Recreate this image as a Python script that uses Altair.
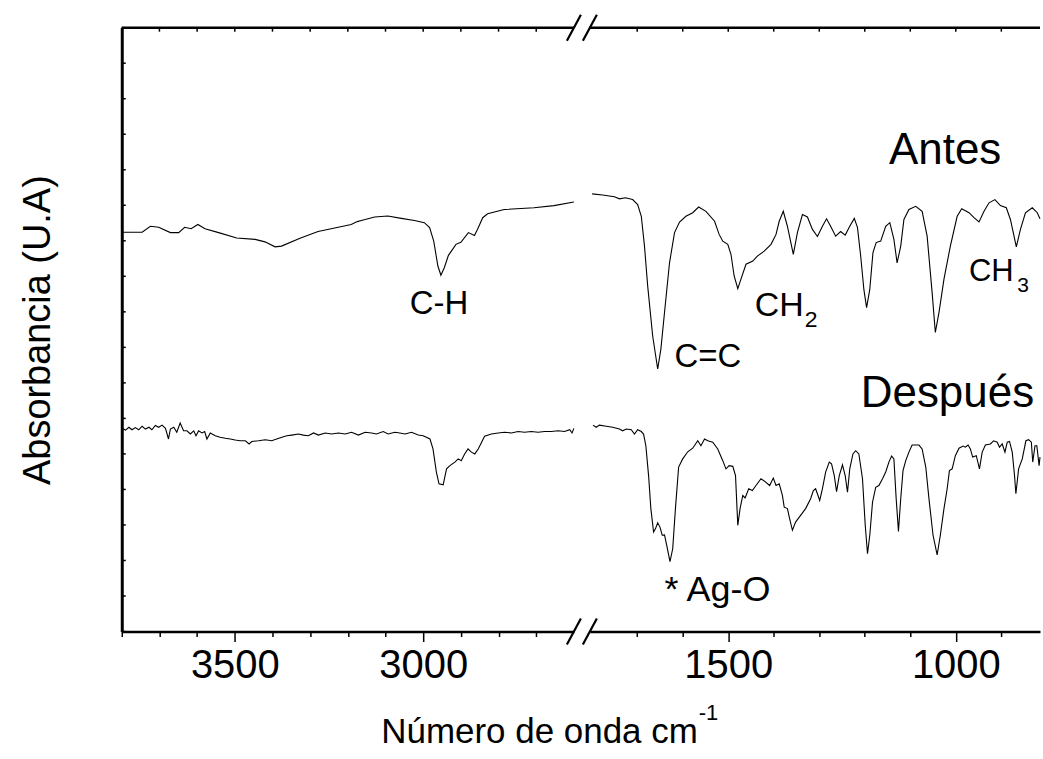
import altair as alt
import pandas as pd

# ---------------- data ----------------
# "Antes" spectrum, high-wavenumber region (cm-1) and absorbance (a.u.)
antes_hi_wn = [3800, 3795, 3746, 3724, 3702, 3671, 3649, 3633, 3616, 3598,
               3579, 3543, 3495, 3446, 3420, 3393, 3376, 3327, 3279, 3235,
               3191, 3175, 3164, 3129, 3094, 3058, 3023, 2997, 2983, 2972,
               2961, 2953, 2944, 2933, 2913, 2900, 2880, 2864, 2856, 2842,
               2829, 2785, 2706, 2653, 2600]
antes_hi_abs = [11.24, 11.24, 11.24, 11.41, 11.38, 11.23, 11.23, 11.38, 11.34, 11.46,
                11.34, 11.23, 11.08, 11.04, 10.97, 10.83, 10.85, 11.07, 11.26, 11.36,
                11.46, 11.54, 11.57, 11.67, 11.70, 11.63, 11.57, 11.51, 11.37, 10.99,
                10.29, 10.03, 10.24, 10.59, 10.90, 10.96, 11.23, 11.15, 11.32, 11.65,
                11.76, 11.88, 11.93, 11.99, 12.09]

# "Antes" spectrum, fingerprint region
antes_lo_wn = [1799, 1776, 1750, 1739, 1726, 1710, 1699, 1691, 1684, 1677,
               1666, 1655, 1648, 1640, 1629, 1618, 1607, 1593, 1578, 1565,
               1549, 1530, 1520, 1512, 1501, 1494, 1487, 1479, 1472, 1461,
               1446, 1436, 1421, 1406, 1395, 1388, 1379, 1370, 1357, 1348,
               1337, 1326, 1315, 1304, 1293, 1284, 1275, 1264, 1253, 1243,
               1233, 1223, 1216, 1209, 1202, 1196, 1189, 1182, 1175, 1165,
               1154, 1145, 1136, 1129, 1121, 1114, 1103, 1088, 1074, 1063,
               1052, 1045, 1037, 1026, 1012, 997, 987, 971, 960, 949,
               938, 927, 914, 902, 889, 880, 867, 858, 847, 832,
               821, 815]
antes_lo_abs = [12.32, 12.29, 12.24, 12.18, 12.21, 12.16, 12.02, 11.69, 10.85, 9.73,
                8.32, 7.39, 7.95, 8.98, 10.38, 11.23, 11.53, 11.69, 11.79, 11.95,
                11.83, 11.55, 11.18, 10.99, 10.90, 10.62, 10.01, 9.65, 9.92, 10.34,
                10.43, 10.57, 10.71, 10.90, 11.18, 11.55, 11.83, 11.41, 10.62, 11.23,
                11.74, 11.67, 11.32, 11.12, 11.41, 11.62, 11.41, 11.13, 11.26, 11.16,
                11.41, 11.63, 11.37, 10.57, 9.63, 9.12, 9.63, 10.67, 10.95, 10.99,
                11.41, 11.51, 11.04, 10.38, 10.85, 11.60, 11.88, 11.97, 11.83, 11.13,
                9.54, 8.42, 8.98, 9.92, 10.85, 11.69, 11.90, 11.79, 11.65, 11.53,
                11.83, 12.07, 12.16, 11.99, 11.93, 11.60, 10.83, 11.32, 11.79, 11.93,
                11.79, 11.62]

# "Después" spectrum, high-wavenumber region
despues_hi_wn = [3800, 3790, 3781, 3773, 3764, 3755, 3746, 3737, 3728, 3720,
                 3711, 3702, 3693, 3684, 3676, 3671, 3662, 3654, 3645, 3636,
                 3627, 3618, 3609, 3603, 3596, 3587, 3580, 3574, 3565, 3552,
                 3539, 3525, 3512, 3499, 3486, 3472, 3462, 3455, 3437, 3419,
                 3402, 3389, 3375, 3362, 3349, 3331, 3318, 3305, 3291, 3278,
                 3260, 3243, 3225, 3207, 3190, 3172, 3154, 3137, 3124, 3106,
                 3093, 3075, 3062, 3048, 3031, 3013, 3000, 2982, 2974, 2965,
                 2958, 2947, 2938, 2929, 2916, 2907, 2899, 2890, 2881, 2872,
                 2863, 2854, 2845, 2837, 2819, 2801, 2784, 2766, 2748, 2731,
                 2713, 2695, 2678, 2660, 2642, 2625, 2611, 2605, 2600]
despues_hi_abs = [5.72, 5.67, 5.75, 5.68, 5.74, 5.68, 5.78, 5.70, 5.75, 5.68,
                  5.80, 5.75, 5.81, 5.72, 5.42, 5.70, 5.75, 5.61, 5.87, 5.65,
                  5.65, 5.56, 5.65, 5.51, 5.65, 5.59, 5.63, 5.42, 5.59, 5.51,
                  5.47, 5.44, 5.42, 5.39, 5.37, 5.37, 5.28, 5.35, 5.37, 5.40,
                  5.37, 5.42, 5.47, 5.51, 5.53, 5.56, 5.53, 5.51, 5.59, 5.53,
                  5.59, 5.56, 5.59, 5.56, 5.61, 5.53, 5.61, 5.59, 5.56, 5.63,
                  5.56, 5.61, 5.59, 5.56, 5.61, 5.53, 5.51, 5.42, 5.14, 4.49,
                  4.16, 4.13, 4.58, 4.67, 4.77, 4.86, 4.81, 5.00, 5.14, 5.05,
                  5.00, 5.14, 5.33, 5.50, 5.56, 5.59, 5.61, 5.59, 5.63, 5.61,
                  5.63, 5.61, 5.63, 5.63, 5.65, 5.63, 5.68, 5.59, 5.72]

# "Después" spectrum, fingerprint region
despues_lo_wn = [1797, 1790, 1783, 1768, 1754, 1739, 1732, 1724, 1713, 1706,
                 1699, 1691, 1686, 1681, 1675, 1670, 1664, 1660, 1655, 1650,
                 1645, 1640, 1635, 1628, 1622, 1616, 1609, 1600, 1589, 1578,
                 1567, 1560, 1552, 1545, 1534, 1523, 1512, 1505, 1498, 1490,
                 1484, 1479, 1474, 1468, 1463, 1455, 1447, 1439, 1428, 1419,
                 1409, 1401, 1395, 1388, 1381, 1377, 1370, 1365, 1359, 1352,
                 1341, 1330, 1319, 1313, 1308, 1299, 1293, 1286, 1278, 1273,
                 1267, 1262, 1256, 1249, 1243, 1238, 1233, 1226, 1220, 1213,
                 1205, 1199, 1194, 1189, 1183, 1176, 1169, 1161, 1154, 1147,
                 1141, 1136, 1131, 1126, 1121, 1116, 1110, 1103, 1096, 1081,
                 1074, 1066, 1059, 1050, 1041, 1034, 1026, 1019, 1014, 1008,
                 1001, 993, 984, 979, 973, 968, 963, 955, 948, 942,
                 935, 924, 917, 909, 904, 898, 892, 887, 882, 876,
                 871, 868, 862, 854, 846, 840, 834, 831, 826, 822,
                 817, 815]
despues_lo_abs = [5.81, 5.75, 5.81, 5.78, 5.75, 5.70, 5.65, 5.70, 5.68, 5.56,
                  5.68, 5.63, 5.56, 5.23, 4.39, 3.46, 2.80, 2.89, 3.06, 2.94,
                  2.71, 2.72, 2.42, 1.97, 2.33, 3.46, 4.63, 4.86, 5.06, 5.16,
                  5.37, 5.23, 5.42, 5.37, 5.33, 5.14, 4.81, 4.58, 4.67, 4.65,
                  4.39, 2.99, 3.46, 3.83, 3.76, 4.02, 3.97, 4.11, 4.30, 4.22,
                  4.11, 4.32, 4.11, 4.16, 3.83, 3.50, 3.46, 3.17, 2.85, 3.08,
                  3.27, 3.46, 3.74, 3.97, 4.02, 3.69, 4.02, 4.49, 4.77, 4.72,
                  4.39, 3.94, 4.39, 4.69, 4.39, 3.92, 4.58, 5.00, 5.09, 5.00,
                  4.30, 2.99, 2.19, 2.71, 3.64, 4.06, 4.11, 4.30, 4.49, 4.77,
                  4.94, 4.86, 3.74, 2.82, 3.74, 4.53, 4.81, 5.05, 5.25, 5.25,
                  5.14, 4.63, 3.74, 2.71, 2.16, 2.71, 3.46, 4.02, 4.53, 4.58,
                  4.95, 5.16, 5.22, 5.19, 5.25, 5.14, 4.91, 4.95, 4.58, 5.05,
                  5.25, 5.28, 5.37, 5.33, 5.19, 5.28, 5.05, 5.33, 5.35, 5.05,
                  4.39, 3.88, 4.58, 4.86, 5.37, 5.40, 5.33, 4.77, 5.23, 5.23,
                  4.67, 4.91]

# axis ranges and tick lists
left_domain = [3800, 2600]
right_domain = [1804, 815]
left_ticks = list(range(2700, 3801, 100))
right_ticks = list(range(900, 1701, 100))
y_ticks = list(range(0, 18))

# annotations: text, wavenumber, absorbance, font size, alignment, panel
ann_text = ["C-H", "Antes", "Después", "C=C", "CH", "2", "CH", "3", "* Ag-O",
            "Número de onda cm", "-1"]
ann_wn = [2958, 900, 828, 1618, 1442, 1332, 971, 865, 1640, 1567, 1565]
ann_abs = [8.93, 13.15, 6.32, 7.44, 8.88, 8.57, 9.86, 9.55, 0.87, -3.15, -2.50]
ann_size = [33, 44, 44, 33, 34, 23, 31, 21, 36, 35, 22]
ann_align = ["center", "right", "right", "left", "left", "left", "left", "left",
             "left", "right", "left"]
ann_panel = ["L", "R", "R", "R", "R", "R", "R", "R", "R", "R", "R"]

# ---------------- tables ----------------
def series(wn, ab, name):
    return pd.DataFrame({"wn": wn, "abs": ab, "series": name})

left_df = pd.concat([series(antes_hi_wn, antes_hi_abs, "Antes"),
                     series(despues_hi_wn, despues_hi_abs, "Después")])
right_df = pd.concat([series(antes_lo_wn, antes_lo_abs, "Antes"),
                      series(despues_lo_wn, despues_lo_abs, "Después")])
ann_df = pd.DataFrame({"text": ann_text, "wn": ann_wn, "abs": ann_abs,
                       "fs": ann_size, "align": ann_align, "panel": ann_panel})

W_L, W_R, H = 453, 451, 605
FONT = "Liberation Sans"

def bottom_axis(values):
    return alt.Axis(orient="bottom", values=values, format="d",
                    tickSize={"condition": {"test": "datum.value % 500 === 0", "value": 10},
                              "value": 5},
                    tickWidth=1.5, tickColor="black",
                    domainColor="black", domainWidth=2.5,
                    labelExpr="datum.value % 500 === 0 ? datum.label : ''",
                    labelFont=FONT, labelFontSize=40, labelColor="black",
                    labelPadding=4, labelFlush=False, labelOverlap=False,
                    grid=False, title=None)

y_scale = alt.Scale(domain=[0, 17], nice=False, zero=False)
y_axis_left = alt.Axis(orient="left", ticks=False, labels=False, domain=True,
                       domainWidth=3, domainColor="black", grid=False,
                       title="Absorbancia (U.A)", titleFont=FONT,
                       titleFontSize=38, titleFontWeight="normal", titleColor="black",
                       titlePadding=64)


def panel(df, domain, ticks, width, side):
    X = alt.X("wn:Q", scale=alt.Scale(domain=domain, nice=False, zero=False),
              axis=bottom_axis(ticks))
    Y = alt.Y("abs:Q", scale=y_scale, axis=y_axis_left if side == "L" else None)

    lines = alt.Chart(df).mark_line(color="black", strokeWidth=1.1).encode(
        x=X, y=Y, detail="series:N", order="wn:Q")

    top_line = alt.Chart(pd.DataFrame({"d": [0]})).mark_rule(
        color="black", strokeWidth=2.5).encode(
        x=alt.value(0), x2=alt.value(width), y=alt.value(0))

    top_ticks = alt.Chart(pd.DataFrame({"wn": ticks})).mark_rule(
        color="black", strokeWidth=1.5).encode(
        x=X, y=alt.value(0), y2=alt.value(4))

    layers = [lines, top_line, top_ticks]

    if side == "L":
        yt = alt.Chart(pd.DataFrame({"abs": y_ticks})).mark_rule(
            color="black", strokeWidth=1.5).encode(
            y=Y, x=alt.value(0), x2=alt.value(4))
        layers.append(yt)
        sx = [width - 7]
    else:
        sx = [-7]
    # axis-break slashes (top and bottom)
    for x0 in sx:
        for yc in (0, H):
            layers.append(alt.Chart(pd.DataFrame({"d": [0]})).mark_rule(
                color="black", strokeWidth=2.2).encode(
                x=alt.value(x0), x2=alt.value(x0 + 14),
                y=alt.value(yc + 13), y2=alt.value(yc - 13)))

    sub = ann_df[ann_df["panel"] == side]
    for al, g in sub.groupby("align"):
        layers.append(alt.Chart(g).mark_text(
            align=al, baseline="alphabetic", font=FONT, color="black").encode(
            x=X, y=Y, text="text:N", size=alt.Size("fs:Q", scale=None)))

    return alt.layer(*layers).properties(width=width, height=H)


left = panel(left_df, left_domain, left_ticks, W_L, "L")
right = panel(right_df, right_domain, right_ticks, W_R, "R")

chart = alt.hconcat(left, right, spacing=16, bounds="flush").configure_view(
    stroke=None).properties(padding={"left": 20, "top": 12, "right": 0, "bottom": 5})

chart.save("out.html", embed_options={"renderer": "svg", "actions": False})
